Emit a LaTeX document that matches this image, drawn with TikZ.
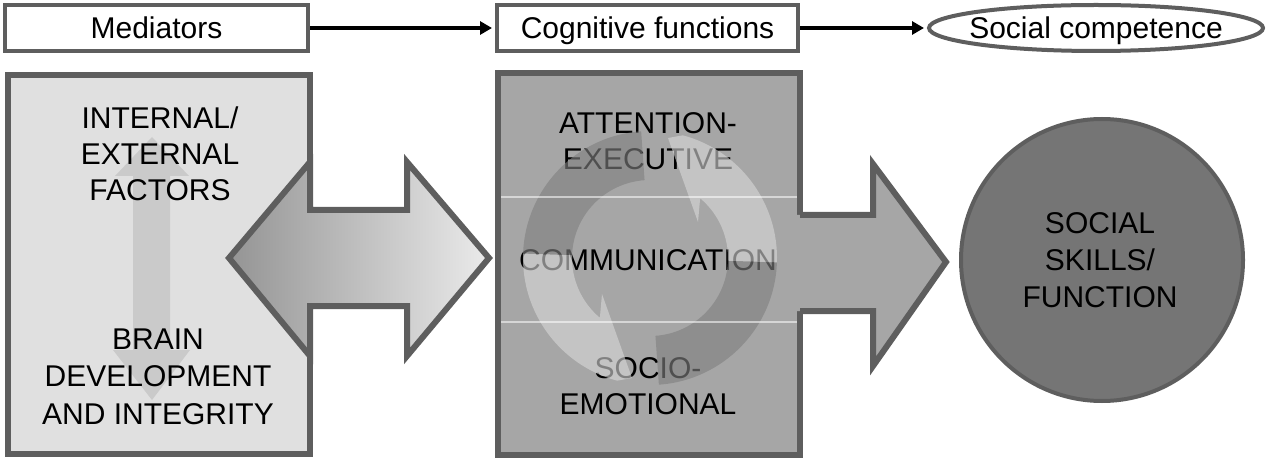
\documentclass[tikz,border=0pt]{standalone}
\usepackage{fontspec}
\setmainfont{Liberation Sans}
\usetikzlibrary{arrows.meta,shapes.geometric}
\definecolor{bord}{HTML}{5E5E5E}
\definecolor{lboxc}{HTML}{E0E0E0}
\definecolor{mboxc}{HTML}{A6A6A6}
\definecolor{circc}{HTML}{757575}
\definecolor{cdark}{HTML}{808080}
\definecolor{clight}{HTML}{D8D8D8}
\definecolor{faint}{HTML}{CACACA}
\begin{document}
\begin{tikzpicture}[x=1pt,y=-1pt,
  bigtxt/.style={font=\fontsize{30}{36}\selectfont, align=center, inner sep=0pt, text=black},
  toptxt/.style={font=\fontsize{30}{36}\selectfont, inner sep=0pt, text height=21.5pt, text depth=0pt},
  topbox/.style={draw=bord, line width=4pt, fill=white, minimum height=46pt, inner sep=0pt},
  bigbox/.style={draw=bord, line width=6pt, inner sep=0pt},
  flow/.style={line width=4pt, -{Triangle[length=12pt,width=13pt]}, shorten >=3pt},
  blockarrow/.style={draw=bord, line width=6pt, line join=miter},
  cycdark/.style={fill=cdark, fill opacity=.62},
  cyclight/.style={fill=clight, fill opacity=.6},
  divider/.style={draw=white, draw opacity=.55, line width=1.5pt}
]
\useasboundingbox (0,0) rectangle (1268,462);

% top row
\node[topbox, minimum width=303pt] (med) at (156.5,28) {};
\node[toptxt] (medt) at (med.center) {Mediators};
\node[topbox, minimum width=301pt] (cog) at (647.5,28) {};
\node[toptxt] (cogt) at (cog.center) {Cognitive functions};
\node[ellipse, draw=bord, line width=4pt, fill=white, minimum width=334pt, minimum height=46pt, inner sep=0pt] (soc) at (1096,28) {};
\node[toptxt] (soct) at (soc.center) {Social competence};
\draw[flow] (med.east) -- (cog.west);
\draw[flow] (cog.east) -- (soc.west);

% left box
\node[bigbox, fill=lboxc, minimum width=302pt, minimum height=379pt] (lbox) at (159,264.5) {};
\fill[faint] (152,137) -- (189,176) -- (170,176) -- (170,350) -- (190,350) -- (152,400)
  -- (113,350) -- (133,350) -- (133,176) -- (115,176) -- cycle;
\node[bigtxt] (ext) at (160,153.5) {INTERNAL/\\EXTERNAL\\FACTORS};
\node[bigtxt, font=\fontsize{30}{37.5}\selectfont] (brain) at (158,376.5) {BRAIN\\DEVELOPMENT\\AND INTEGRITY};

% middle box
\node[bigbox, fill=mboxc, minimum width=302pt, minimum height=382pt] (mbox) at (649,264) {};
\node[bigtxt] (att) at (648,141) {ATTENTION-\\EXECUTIVE};
\node[bigtxt] (comm) at (648,260) {COMMUNICATION};
\node[bigtxt] (socio) at (648,386) {SOCIO-\\EMOTIONAL};

% cycle arrows
\begin{scope}[shift={(650,258)}]
  \path[cycdark] (94:127pt) arc[start angle=94, end angle=178, radius=127pt]
    -- (178:78pt) arc[start angle=178, end angle=94, radius=78pt] -- cycle;
  \path[cycdark] (274:127pt) arc[start angle=274, end angle=358, radius=127pt]
    -- (358:78pt) arc[start angle=358, end angle=274, radius=78pt] -- cycle;
  \path[cyclight] (-2:78pt) -- (-2:127pt) arc[start angle=-2, end angle=75, radius=127pt]
    -- (18pt,120pt) -- (48pt,36pt) -- (50:78pt) arc[start angle=50, end angle=-2, radius=78pt] -- cycle;
  \path[cyclight] (178:78pt) -- (178:127pt) arc[start angle=178, end angle=255, radius=127pt]
    -- (-18pt,-120pt) -- (-48pt,-36pt) -- (230:78pt) arc[start angle=230, end angle=178, radius=78pt] -- cycle;
\end{scope}
\draw[divider] (501,197) -- (797,197);
\draw[divider] (501,322) -- (797,322);

% double arrow between boxes
\draw[blockarrow, left color=black!42, right color=black!8]
  (229,258) -- (310,162) -- (310,210) -- (407,210) -- (407,162) -- (489,258)
  -- (407,356) -- (407,306) -- (310,306) -- (310,356) -- cycle;

% arrow to circle
\fill[mboxc] (797,215) -- (873,215) -- (873,164) -- (946,262) -- (873,366) -- (873,311) -- (797,311) -- cycle;
\draw[blockarrow] (800,215) -- (873,215) -- (873,164) -- (946,262) -- (873,366) -- (873,311) -- (800,311);

% circle
\node[circle, draw=bord, line width=4pt, fill=circc, minimum size=282pt, inner sep=0pt] (skills) at (1102,260) {};
\node[bigtxt, font=\fontsize{30}{37}\selectfont] (skillst) at (1100,260.5) {SOCIAL\\SKILLS/\\FUNCTION};
\end{tikzpicture}
\end{document}
